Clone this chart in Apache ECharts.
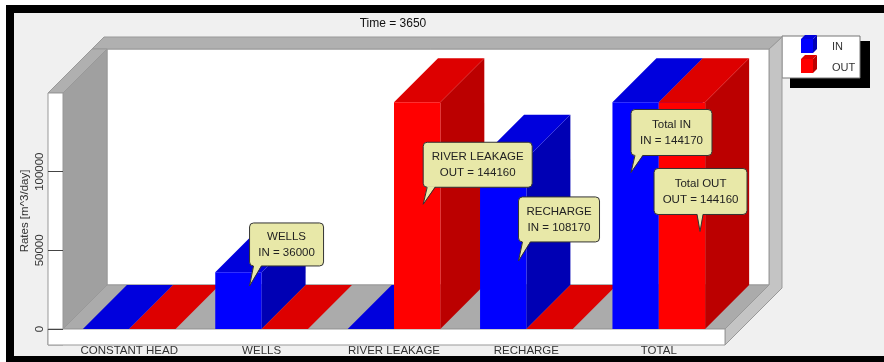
<!DOCTYPE html>
<html>
<head>
<meta charset="utf-8">
<script src="https://cdn.jsdelivr.net/npm/echarts@6/dist/echarts.min.js"></script>
<style>
  html, body { margin: 0; padding: 0; background: #fff; }
  #chart { width: 884px; height: 362px; }
</style>
</head>
<body>
<div id="chart"></div>
<script>
// budget terms, rates in m^3/day
var categories = ["CONSTANT HEAD", "WELLS", "RIVER LEAKAGE", "RECHARGE", "TOTAL"];
var inValues = [0, 36000, 0, 108170, 144170];
var outValues = [0, 0, 144160, 0, 144160];
var yTicks = [0, 50000, 100000];

var DEPTH = 44;   // 3d offset of the bars / walls
var BAR = 0.35;   // bar width as part of a category
var FONT = "'Liberation Sans', Arial, sans-serif";
var colors = {
  IN: { front: "#0000ff", top: "#0000dd", side: "#0000b4" },
  OUT: { front: "#ff0000", top: "#dd0000", side: "#bb0000" }
};

// speech bubbles: tip sits on the bar face (frac of height, fx across), box above it
var callouts = [
  { cat: 1, s: "IN", title: "WELLS", frac: 0.76, fx: 0.74, bx: 0, w: 74, h: 43, gap: 20, tail: [4, 12] },
  { cat: 2, s: "OUT", title: "RIVER LEAKAGE", frac: 0.55, fx: 0.63, bx: 0, w: 109, h: 45, gap: 17, tail: [4, 12] },
  { cat: 3, s: "IN", title: "RECHARGE", frac: 0.40, fx: 0.83, bx: 0, w: 81, h: 45, gap: 19, tail: [4, 12] },
  { cat: 4, s: "IN", title: "Total IN", frac: 0.69, fx: 0.40, bx: 0, w: 81, h: 46, gap: 17, tail: [4, 12] },
  { cat: 4, s: "OUT", title: "Total OUT", frac: 0.43, fx: 0.89, bx: -46, w: 93, h: 46, gap: 17, tail: [-3, 3] }
];

function valueOf(s, i) {
  return s === "IN" ? inValues[i] : outValues[i];
}

function box3d(x0, x1, yTop, base, c) {
  var d = DEPTH;
  return [
    { type: "polygon", shape: { points: [[x1, yTop], [x1 + d, yTop - d], [x1 + d, base - d], [x1, base]] }, style: { fill: c.side } },
    { type: "polygon", shape: { points: [[x0, yTop], [x1, yTop], [x1 + d, yTop - d], [x0 + d, yTop - d]] }, style: { fill: c.top } },
    { type: "rect", shape: { x: x0, y: yTop, width: x1 - x0, height: base - yTop }, style: { fill: c.front } }
  ];
}

// walls and floor of the 3d box, from the grid rect
function renderWalls(params, api) {
  var cs = params.coordSys;
  var gx = cs.x, gy = cs.y, gw = cs.width, base = cs.y + cs.height;
  var d = DEPTH, t = 15;
  var edge = { stroke: "#999", lineWidth: 1 };
  function st(fill) { return Object.assign({ fill: fill }, edge); }
  return {
    type: "group",
    children: [
      // right side of back wall + floor slab
      { type: "polygon", shape: { points: [[gx + gw, base], [gx + gw + d, base - d], [gx + gw + d, gy - d], [gx + gw + d + 13, gy - d - 12], [gx + gw + d + 13, base + 16 - d - 13], [gx + gw, base + 16]] }, style: st("#c4c4c4") },
      // back wall
      { type: "rect", shape: { x: gx + d, y: gy - d, width: gw, height: base - gy }, style: st("#ffffff") },
      // top of back wall
      { type: "polygon", shape: { points: [[gx + d - t, gy - d], [gx + gw + d, gy - d], [gx + gw + d + 13, gy - d - 12], [gx + d - 3, gy - d - 12]] }, style: st("#b0b0b0") },
      // left wall inner face
      { type: "polygon", shape: { points: [[gx, gy], [gx + d, gy - d], [gx + d, base - d], [gx, base]] }, style: st("#a0a0a0") },
      // top of left wall
      { type: "polygon", shape: { points: [[gx - t, gy], [gx, gy], [gx + d, gy - d], [gx + d - t, gy - d]] }, style: st("#b0b0b0") },
      // left wall front
      { type: "rect", shape: { x: gx - t, y: gy, width: t, height: base - gy + 16 }, style: st("#ffffff") },
      // floor
      { type: "polygon", shape: { points: [[gx, base], [gx + gw, base], [gx + gw + d, base - d], [gx + d, base - d]] }, style: st("#ababab") },
      // floor slab front
      { type: "rect", shape: { x: gx - t, y: base, width: gw + t, height: 16 }, style: st("#ffffff") }
    ]
  };
}

function renderBars(params, api) {
  var i = api.value(0);
  var p0 = api.coord([i, 0]);
  var bw = api.size([1, 0])[0] * BAR;
  var yin = api.coord([i, api.value(1)])[1];
  var yout = api.coord([i, api.value(2)])[1];
  return {
    type: "group",
    children: box3d(p0[0] - bw, p0[0], yin, p0[1], colors.IN)
      .concat(box3d(p0[0], p0[0] + bw, yout, p0[1], colors.OUT))
  };
}

function renderCallout(params, api) {
  var c = callouts[params.dataIndex];
  var v = valueOf(c.s, c.cat);
  var cx = api.coord([c.cat, 0])[0];
  var bw = api.size([1, 0])[0] * BAR;
  var x0 = c.s === "IN" ? cx - bw : cx;
  var tx = x0 + c.fx * bw;
  var ty = api.coord([c.cat, v * c.frac])[1];
  var bl = tx + c.bx, bb = ty - c.gap, bt = bb - c.h;
  return {
    type: "group",
    children: [
      { type: "rect", shape: { x: bl, y: bt, width: c.w, height: c.h, r: 4 }, style: { fill: "#e8e8a8", stroke: "#333", lineWidth: 1 } },
      { type: "polygon", shape: { points: [[tx + c.tail[0], bb - 1], [tx + c.tail[1], bb - 1], [tx, ty]] }, style: { fill: "#e8e8a8" } },
      { type: "polyline", shape: { points: [[tx + c.tail[0], bb], [tx, ty], [tx + c.tail[1], bb]] }, style: { fill: null, stroke: "#333", lineWidth: 1 } },
      {
        type: "text",
        style: {
          text: c.title + "\n" + c.s + " = " + v,
          x: bl + c.w / 2, y: bt + c.h / 2,
          align: "center", verticalAlign: "middle",
          font: "11.5px " + FONT, lineHeight: 16, fill: "#222"
        }
      }
    ]
  };
}

function cube(x, y, fill, top, side) {
  return [
    { type: "polygon", shape: { points: [[x + 12, y + 4], [x + 16, y], [x + 16, y + 14], [x + 12, y + 18]] }, style: { fill: side } },
    { type: "polygon", shape: { points: [[x, y + 4], [x + 4, y], [x + 16, y], [x + 12, y + 4]] }, style: { fill: top } },
    { type: "rect", shape: { x: x, y: y + 4, width: 12, height: 14 }, style: { fill: fill } }
  ];
}

var chart = echarts.init(document.getElementById("chart"));
var option = {
  backgroundColor: "#ffffff",
  animation: false,
  grid: { left: 63, right: 159, top: 93, bottom: 33 },
  xAxis: {
    type: "category",
    data: categories,
    axisLine: { show: false },
    axisTick: { show: false },
    axisLabel: { margin: 16, color: "#333", fontSize: 11.5, fontFamily: FONT }
  },
  yAxis: {
    type: "value",
    min: 0,
    max: 150000,
    z: 10,
    axisLine: { show: false },
    axisTick: { show: true, length: 15, customValues: yTicks, lineStyle: { color: "#444" } },
    splitLine: { show: false },
    axisLabel: {
      rotate: 90, margin: 17, customValues: yTicks, color: "#333", fontSize: 11.5, fontFamily: FONT,
      formatter: function (v) { return String(v); }
    },
    name: "Rates [m^3/day]",
    nameLocation: "middle",
    nameRotate: 90,
    nameGap: 32,
    nameMoveOverlap: false,
    nameTextStyle: { color: "#333", fontSize: 11.5, fontFamily: FONT }
  },
  graphic: [
    { type: "rect", z: -10, shape: { x: 10, y: 9, width: 900, height: 351 }, style: { fill: "#f0f0f0", stroke: "#000", lineWidth: 8 } },
    { type: "text", style: { text: "Time = 3650", x: 393, y: 24, align: "center", verticalAlign: "middle", font: "12px " + FONT, fill: "#111" } },
    {
      type: "group",
      children: [
        { type: "rect", shape: { x: 790, y: 41, width: 80, height: 47 }, style: { fill: "#000" } },
        { type: "rect", shape: { x: 782, y: 36, width: 78, height: 42 }, style: { fill: "#fff", stroke: "#777", lineWidth: 1 } },
        { type: "group", children: cube(801, 35, colors.IN.front, colors.IN.top, colors.IN.side) },
        { type: "group", children: cube(801, 55, colors.OUT.front, colors.OUT.top, colors.OUT.side) },
        { type: "text", style: { text: "IN", x: 832, y: 47, verticalAlign: "middle", font: "11px " + FONT, fill: "#333" } },
        { type: "text", style: { text: "OUT", x: 832, y: 68, verticalAlign: "middle", font: "11px " + FONT, fill: "#333" } }
      ]
    }
  ],
  series: [
    {
      type: "custom",
      name: "walls",
      z: 1,
      silent: true,
      renderItem: renderWalls,
      data: [[0, 0]]
    },
    {
      type: "custom",
      name: "rates",
      z: 2,
      renderItem: renderBars,
      encode: { x: 0, y: [1, 2] },
      data: categories.map(function (c, i) { return [i, inValues[i], outValues[i]]; })
    },
    {
      type: "custom",
      name: "callouts",
      z: 3,
      renderItem: renderCallout,
      encode: { x: 0, y: 1 },
      data: callouts.map(function (c) { return [c.cat, valueOf(c.s, c.cat) * c.frac]; })
    }
  ]
};
chart.setOption(option);
</script>
</body>
</html>
